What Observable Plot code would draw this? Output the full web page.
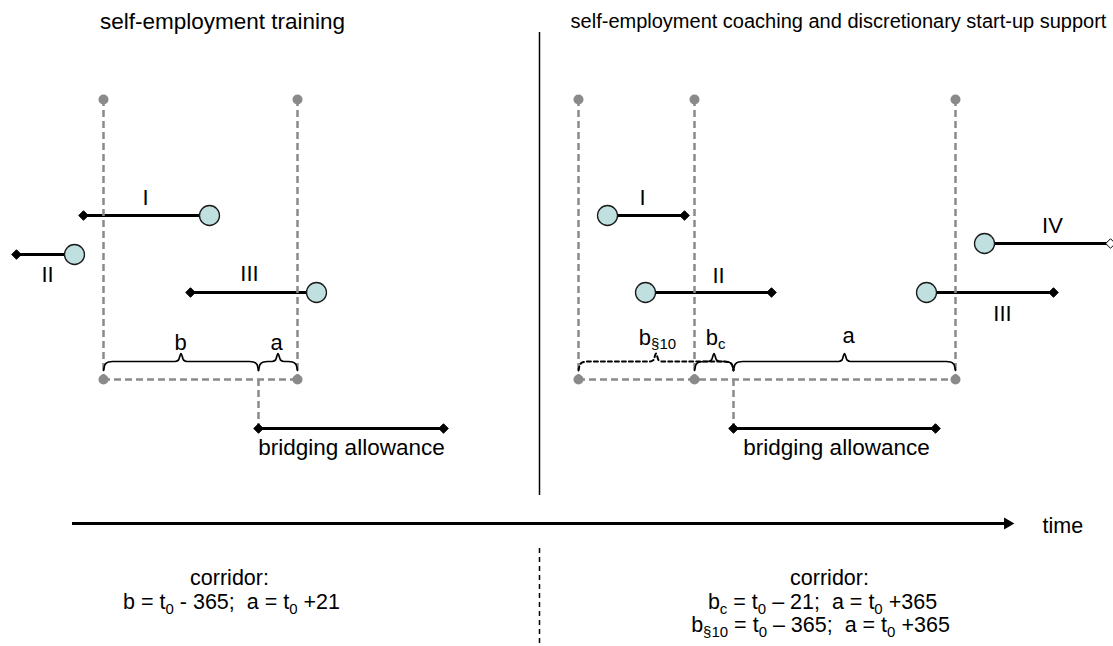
<!DOCTYPE html>
<html><head><meta charset="utf-8">
<script src="https://cdn.jsdelivr.net/npm/d3@7"></script>
<script src="https://cdn.jsdelivr.net/npm/@observablehq/plot@0.6"></script>
<style>
body{margin:0;background:#fff;}
svg{display:block;}
svg text{white-space:pre;}
</style>
</head><body><div id="chart"></div>
<script>
// ---- data (diagram units along the time axis / rows) ----
const panelTitles = ["self-employment training", "self-employment coaching and discretionary start-up support"];
const panelTitleX = [222, 838];
const panelTitleY = [21, 21];
const panelTitleSize = [22.5, 20];

const spellLabels = ["I", "II", "III", "I", "II", "III", "IV"];
const spellRow = [215, 254, 292, 215, 292, 292, 243];
const spellCircle = [209, 74, 316, 607, 645, 926, 984];
const spellDiamond = [83, 16, 190, 684, 771, 1053, 1110];
const spellDiamondOpen = [false, false, false, false, false, false, true];
const spellLabelX = [145, 47, 249, 642, 718, 1002, 1052];
const spellLabelY = [197, 274, 273, 197, 275, 313, 225];

const corridorBounds = [103, 297, 578, 694, 955];
const corridorTop = 99;
const corridorBottom = 379;
const corridorFrom = [103, 578];
const corridorTo = [297, 955];

const programmeStart = [258, 733];   // t0
const bridgingEnd = [443, 935];
const bridgingRow = 428;
const bridgingLabel = "bridging allowance";
const bridgingLabelX = [351, 836];
const bridgingLabelY = 447;

const braceFrom = [103, 258, 578, 694, 733];
const braceTo = [258, 297, 733, 733, 955];
const braceLabels = ["b", "a", "b_{§10}", "b_{c}", "a"];
const braceLabelX = [180, 276, 657, 715, 848];
const braceLabelY = [342, 342, 337, 337, 335];
const braceDashed = [false, false, true, false, false];
const braceY = 361;

const separatorX = 539;
const separatorTop = 32, separatorBottom = 495;
const separatorLowTop = 548, separatorLowBottom = 646;

const axisFrom = 72, axisTo = 1013, axisY = 523;
const axisLabel = "time";
const axisLabelX = 1042;

const corridorLines = [
  "corridor:", "b = t_{0} - 365;  a = t_{0} +21",
  "corridor:", "b_{c} = t_{0} – 21;  a = t_{0} +365", "b_{§10} = t_{0} – 365;  a = t_{0} +365"
];
const corridorLineX = [229, 231, 829, 822, 820];
const corridorLineY = [578, 602, 578, 602, 625];

// ---- tables built from arrays ----
const spells = spellLabels.map((label, i) => ({
  label, row: spellRow[i], circle: spellCircle[i], diamond: spellDiamond[i],
  open: spellDiamondOpen[i], lx: spellLabelX[i], ly: spellLabelY[i]
}));
const bridges = programmeStart.map((t0, i) => ({t0, end: bridgingEnd[i], lx: bridgingLabelX[i]}));
const corridors = corridorFrom.map((f, i) => ({from: f, to: corridorTo[i]}));
const braces = braceLabels.map((label, i) => ({
  id: i, label, x0: braceFrom[i], x1: braceTo[i], lx: braceLabelX[i], ly: braceLabelY[i], dashed: braceDashed[i]
}));

function bracePoints(b) {
  const {x0, x1, id} = b, m = (x0 + x1) / 2, y = braceY;
  const shape = [[x0, y + 9], [x0 + 1.5, y + 3], [x0 + 5, y + 0.5], [x0 + 9, y],
    [m - 6, y], [m - 2.5, y - 1.5], [m, y - 8], [m + 2.5, y - 1.5], [m + 6, y],
    [x1 - 9, y], [x1 - 5, y + 0.5], [x1 - 1.5, y + 3], [x1, y + 9]];
  return shape.map(([x, yy]) => ({id, x, y: yy, dashed: b.dashed}));
}
const bracePts = braces.flatMap(bracePoints);

const font = "Liberation Sans, Arial, Helvetica, sans-serif";
const gray = "#8a8a8a";

const chart = Plot.plot({
  width: 1113, height: 646, margin: 0,
  x: {domain: [0, 1113], range: [0, 1113], axis: null},
  y: {domain: [0, 646], range: [0, 646], axis: null},
  style: {fontFamily: font, background: "#fff", color: "#000"},
  marks: [
    // spells
    Plot.link(spells, {x1: "diamond", x2: "circle", y1: "row", y2: "row", stroke: "#000", strokeWidth: 2.8}),
    // bridging allowance
    Plot.link(bridges, {x1: "t0", x2: "end", y1: bridgingRow, y2: bridgingRow, stroke: "#000", strokeWidth: 2.8}),
    // corridor verticals and bottoms
    Plot.ruleX(corridorBounds, {y1: corridorTop, y2: corridorBottom, stroke: gray, strokeWidth: 2.5, strokeDasharray: "7,4"}),
    Plot.ruleY(corridors, {x1: "from", x2: "to", y: corridorBottom, stroke: gray, strokeWidth: 2.5, strokeDasharray: "7,4"}),
    Plot.ruleX(programmeStart, {y1: corridorBottom, y2: bridgingRow, stroke: gray, strokeWidth: 2.5, strokeDasharray: "7,4"}),
    // braces
    Plot.line(bracePts.filter(d => !d.dashed), {x: "x", y: "y", z: "id", stroke: "#000", strokeWidth: 1.7, curve: "monotone-x"}),
    Plot.line(bracePts.filter(d => d.dashed), {x: "x", y: "y", z: "id", stroke: "#000", strokeWidth: 2, strokeDasharray: "4,3", curve: "monotone-x"}),
    // gray corridor dots
    Plot.dot(corridorBounds, {x: d => d, y: corridorTop, r: 5, fill: gray, stroke: "none"}),
    Plot.dot(corridorBounds, {x: d => d, y: corridorBottom, r: 5, fill: gray, stroke: "none"}),
    // markers
    Plot.dot(spells, {x: "diamond", y: "row", symbol: "diamond2", r: 4.3, fill: d => d.open ? "#fff" : "#000", stroke: "#000", strokeWidth: 1}),
    Plot.dot(bridges, {x: "t0", y: bridgingRow, symbol: "diamond2", r: 4.3, fill: "#000", stroke: "#000", strokeWidth: 1}),
    Plot.dot(bridges, {x: "end", y: bridgingRow, symbol: "diamond2", r: 4.3, fill: "#000", stroke: "#000", strokeWidth: 1}),
    Plot.dot(spells, {x: "circle", y: "row", r: 10, fill: "#c0e0e0", stroke: "#1a1a1a", strokeWidth: 1.3}),
    // labels
    Plot.text(spells, {x: "lx", y: "ly", text: "label", fontSize: 22, fill: "#000"}),
    Plot.text(braces, {x: "lx", y: "ly", text: "label", fontSize: 22, fill: "#000"}),
    Plot.text(bridges, {x: "lx", y: bridgingLabelY, text: () => bridgingLabel, fontSize: 22.5, fill: "#000"}),
    Plot.text(panelTitles, {x: (d, i) => panelTitleX[i], y: (d, i) => panelTitleY[i], text: d => d, fontSize: (d, i) => panelTitleSize[i], fill: "#000"}),
    // separators
    Plot.ruleX([separatorX], {y1: separatorTop, y2: separatorBottom, stroke: "#000", strokeWidth: 1.5}),
    Plot.ruleX([separatorX], {y1: separatorLowTop, y2: separatorLowBottom, stroke: "#000", strokeWidth: 1.5, strokeDasharray: "5,4"}),
    // time axis arrow
    Plot.ruleY([axisY], {x1: axisFrom, x2: axisTo - 8, stroke: "#000", strokeWidth: 3}),
    Plot.dot([axisTo], {x: d => d - 6, y: axisY, symbol: "triangle", rotate: 90, r: 4.4, fill: "#000", stroke: "none"}),
    Plot.text([axisLabel], {x: axisLabelX, y: axisY + 3, text: d => d, textAnchor: "start", fontSize: 21.5, fill: "#000"}),
    // corridor formulas
    Plot.text(corridorLines, {x: (d, i) => corridorLineX[i], y: (d, i) => corridorLineY[i], text: d => d, fontSize: 21.5, fill: "#000"})
  ]
});

// render _{...} as subscripts
const NS = "http://www.w3.org/2000/svg";
chart.querySelectorAll("text").forEach(t => {
  const s = t.textContent;
  if (!s.includes("_{")) return;
  while (t.firstChild) t.removeChild(t.firstChild);
  const parts = s.split(/(_\{[^}]*\})/).filter(p => p.length);
  let shifted = false;
  parts.forEach(p => {
    const ts = document.createElementNS(NS, "tspan");
    if (p.startsWith("_{")) {
      ts.textContent = p.slice(2, -1);
      ts.setAttribute("font-size", "15");
      ts.setAttribute("dy", "4.5");
      shifted = true;
    } else {
      ts.textContent = p;
      if (shifted) { ts.setAttribute("dy", "-4.5"); shifted = false; }
    }
    t.appendChild(ts);
  });
});
document.getElementById("chart").appendChild(chart);
</script>
</body></html>
